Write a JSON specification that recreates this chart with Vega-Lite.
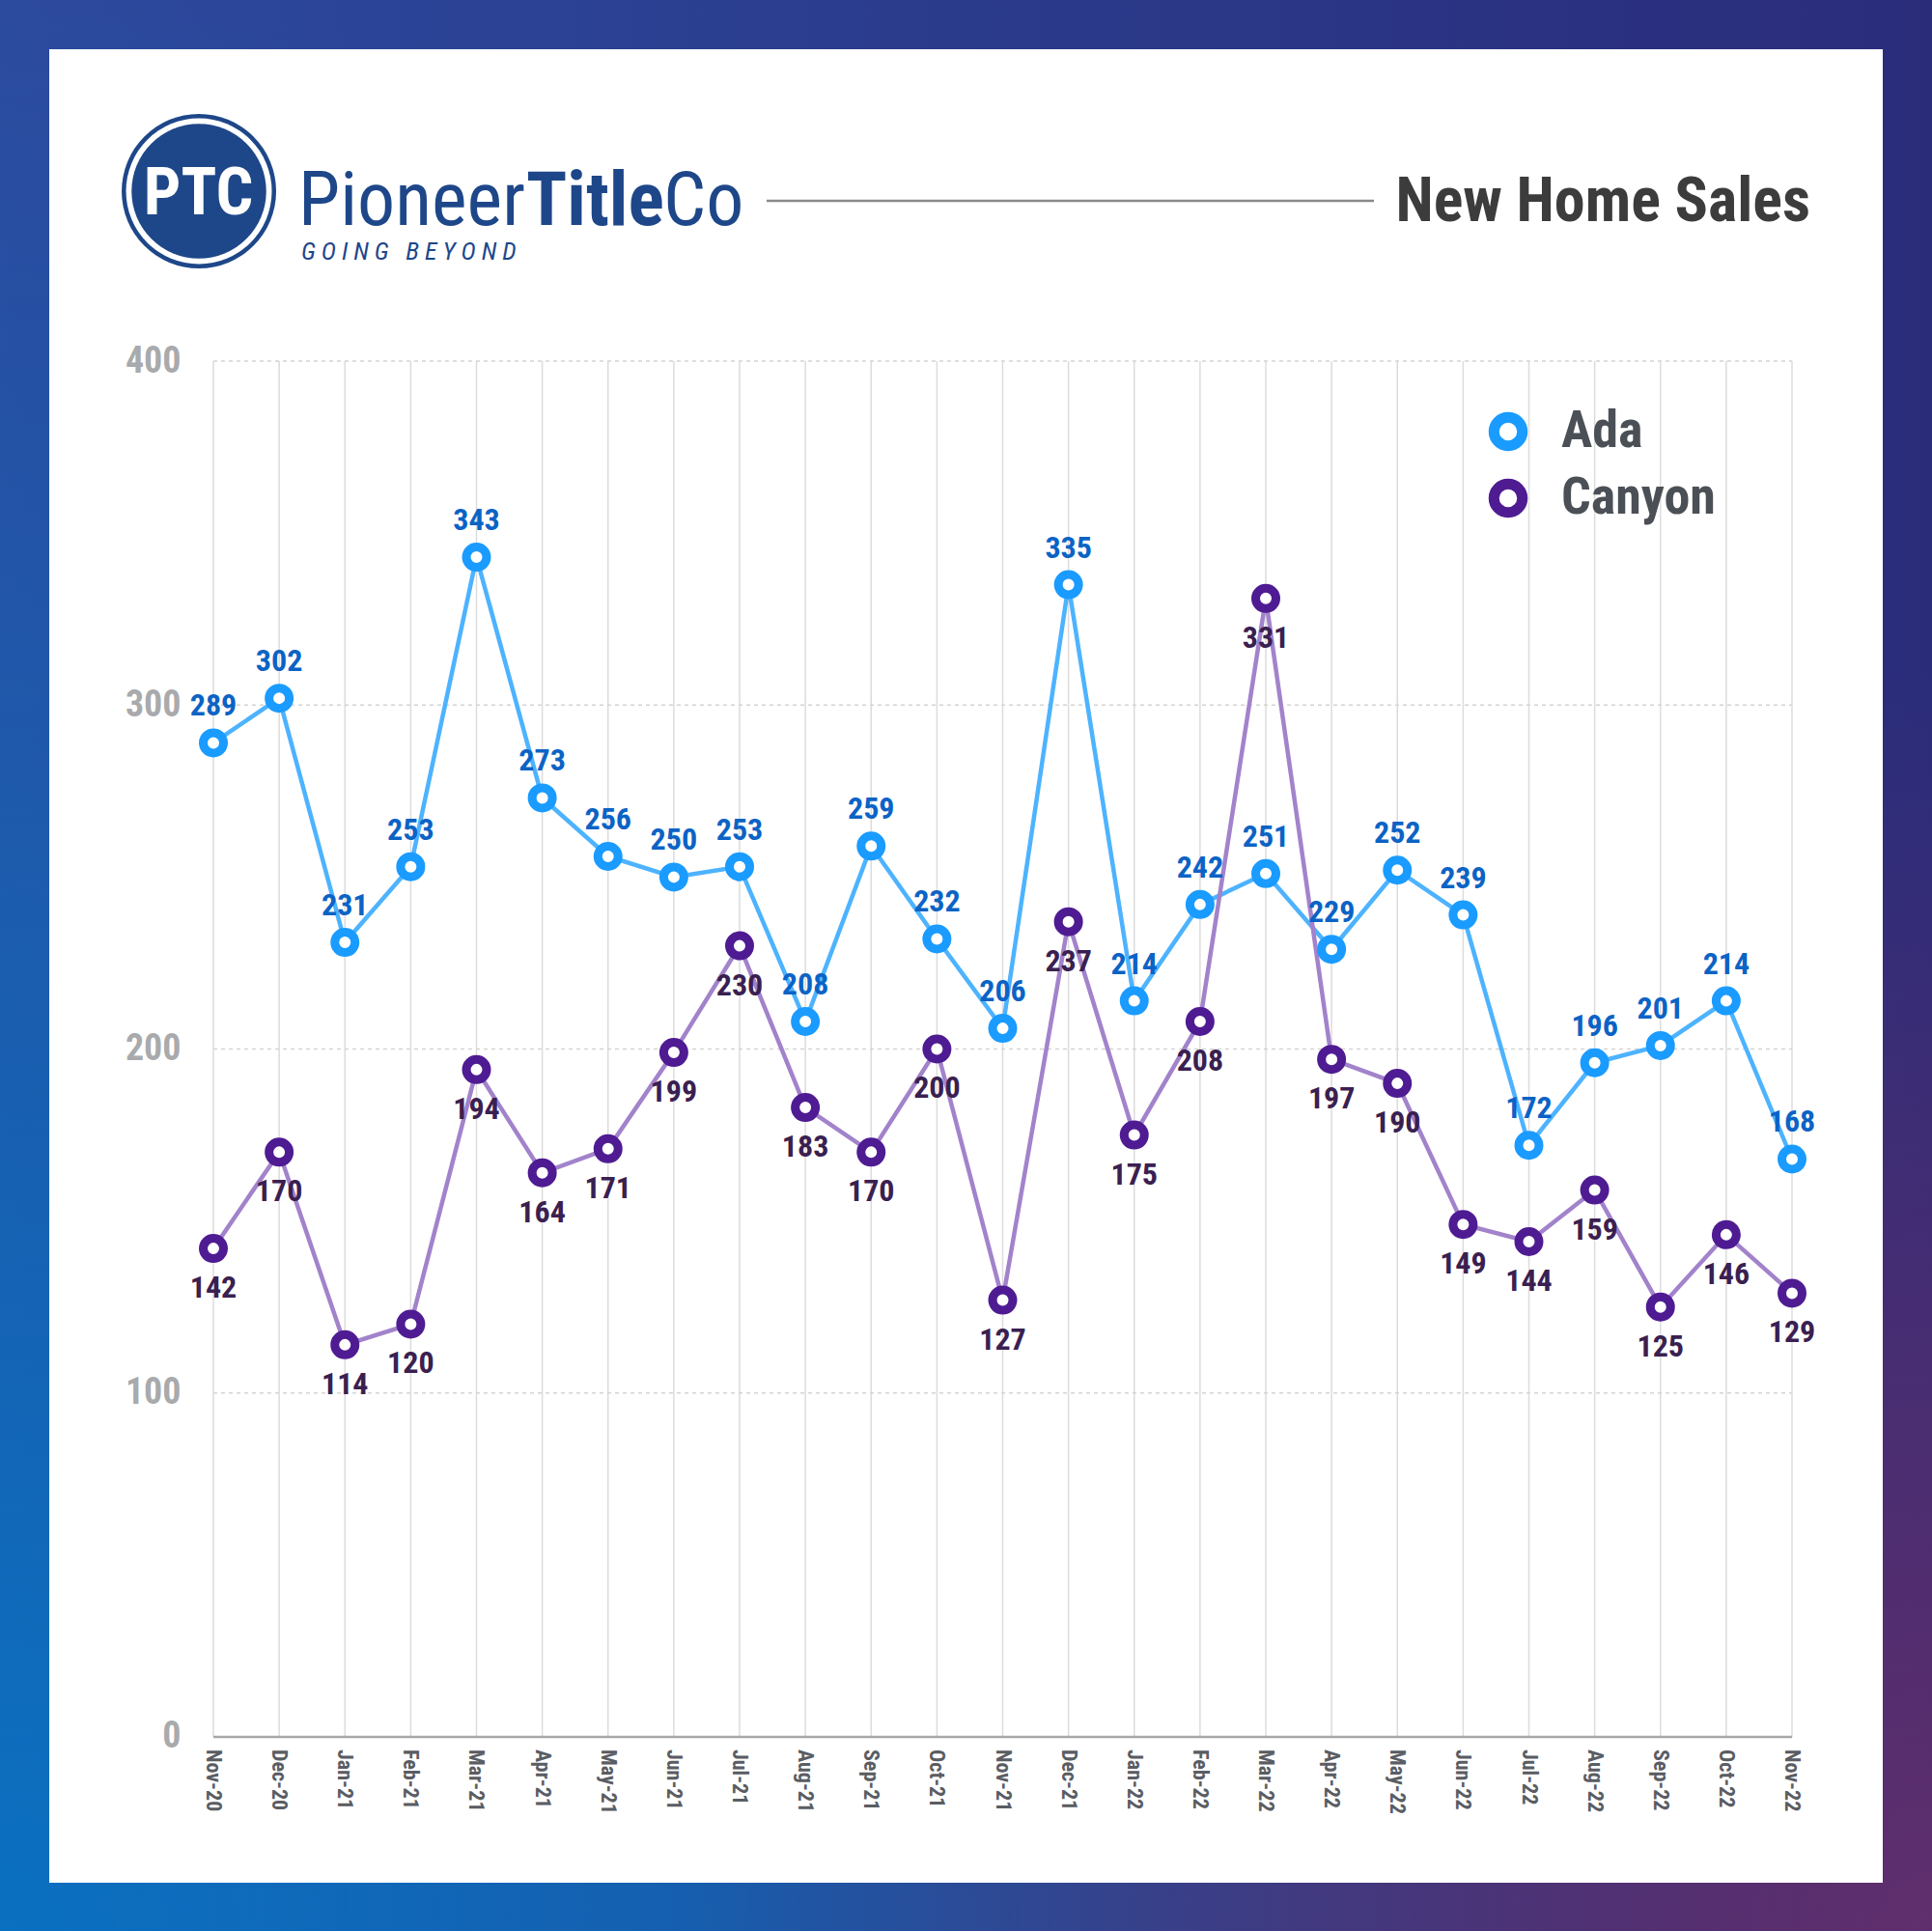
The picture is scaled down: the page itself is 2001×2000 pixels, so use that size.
{
  "$schema": "https://vega.github.io/schema/vega-lite/v6.json",
  "width": 1899,
  "height": 1899,
  "autosize": "none",
  "padding": {"left": 51, "top": 51, "right": 51, "bottom": 50},
  "background": "#2a3f92",
  "config": {"view": {"stroke": null}, "font": "Liberation Sans Narrow, Roboto Condensed, Roboto"},
  "resolve": {"axis": {"y": "independent"}},
  "datasets": {
    "sales": [
      {"month": "Nov-20", "i": 0, "series": "Ada", "value": 289},
      {"month": "Dec-20", "i": 1, "series": "Ada", "value": 302},
      {"month": "Jan-21", "i": 2, "series": "Ada", "value": 231},
      {"month": "Feb-21", "i": 3, "series": "Ada", "value": 253},
      {"month": "Mar-21", "i": 4, "series": "Ada", "value": 343},
      {"month": "Apr-21", "i": 5, "series": "Ada", "value": 273},
      {"month": "May-21", "i": 6, "series": "Ada", "value": 256},
      {"month": "Jun-21", "i": 7, "series": "Ada", "value": 250},
      {"month": "Jul-21", "i": 8, "series": "Ada", "value": 253},
      {"month": "Aug-21", "i": 9, "series": "Ada", "value": 208},
      {"month": "Sep-21", "i": 10, "series": "Ada", "value": 259},
      {"month": "Oct-21", "i": 11, "series": "Ada", "value": 232},
      {"month": "Nov-21", "i": 12, "series": "Ada", "value": 206},
      {"month": "Dec-21", "i": 13, "series": "Ada", "value": 335},
      {"month": "Jan-22", "i": 14, "series": "Ada", "value": 214},
      {"month": "Feb-22", "i": 15, "series": "Ada", "value": 242},
      {"month": "Mar-22", "i": 16, "series": "Ada", "value": 251},
      {"month": "Apr-22", "i": 17, "series": "Ada", "value": 229},
      {"month": "May-22", "i": 18, "series": "Ada", "value": 252},
      {"month": "Jun-22", "i": 19, "series": "Ada", "value": 239},
      {"month": "Jul-22", "i": 20, "series": "Ada", "value": 172},
      {"month": "Aug-22", "i": 21, "series": "Ada", "value": 196},
      {"month": "Sep-22", "i": 22, "series": "Ada", "value": 201},
      {"month": "Oct-22", "i": 23, "series": "Ada", "value": 214},
      {"month": "Nov-22", "i": 24, "series": "Ada", "value": 168},
      {"month": "Nov-20", "i": 0, "series": "Canyon", "value": 142},
      {"month": "Dec-20", "i": 1, "series": "Canyon", "value": 170},
      {"month": "Jan-21", "i": 2, "series": "Canyon", "value": 114},
      {"month": "Feb-21", "i": 3, "series": "Canyon", "value": 120},
      {"month": "Mar-21", "i": 4, "series": "Canyon", "value": 194},
      {"month": "Apr-21", "i": 5, "series": "Canyon", "value": 164},
      {"month": "May-21", "i": 6, "series": "Canyon", "value": 171},
      {"month": "Jun-21", "i": 7, "series": "Canyon", "value": 199},
      {"month": "Jul-21", "i": 8, "series": "Canyon", "value": 230},
      {"month": "Aug-21", "i": 9, "series": "Canyon", "value": 183},
      {"month": "Sep-21", "i": 10, "series": "Canyon", "value": 170},
      {"month": "Oct-21", "i": 11, "series": "Canyon", "value": 200},
      {"month": "Nov-21", "i": 12, "series": "Canyon", "value": 127},
      {"month": "Dec-21", "i": 13, "series": "Canyon", "value": 237},
      {"month": "Jan-22", "i": 14, "series": "Canyon", "value": 175},
      {"month": "Feb-22", "i": 15, "series": "Canyon", "value": 208},
      {"month": "Mar-22", "i": 16, "series": "Canyon", "value": 331},
      {"month": "Apr-22", "i": 17, "series": "Canyon", "value": 197},
      {"month": "May-22", "i": 18, "series": "Canyon", "value": 190},
      {"month": "Jun-22", "i": 19, "series": "Canyon", "value": 149},
      {"month": "Jul-22", "i": 20, "series": "Canyon", "value": 144},
      {"month": "Aug-22", "i": 21, "series": "Canyon", "value": 159},
      {"month": "Sep-22", "i": 22, "series": "Canyon", "value": 125},
      {"month": "Oct-22", "i": 23, "series": "Canyon", "value": 146},
      {"month": "Nov-22", "i": 24, "series": "Canyon", "value": 129}
    ],
    "grid": [{"g": 100}, {"g": 200}, {"g": 300}, {"g": 400}],
    "one": [{}]
  },
  "data": {"name": "sales"},
  "layer": [
    {
      "data": {"name": "one"},
      "mark": {"type": "rect", "fill": {"gradient": "linear", "x1": 0, "y1": 0, "x2": 1, "y2": 0, "stops": [{"offset": 0, "color": "#2C4A9E"}, {"offset": 1, "color": "#2A2C7A"}]}},
      "encoding": {
        "x": {"datum": -3.3, "type": "quantitative", "scale": {"domain": [-2.4954, 25.3798], "nice": false, "zero": false}, "axis": null},
        "x2": {"datum": 26.2},
        "y": {"datum": -57, "type": "quantitative", "scale": {"domain": [-42.39, 490.67], "nice": false, "zero": false}, "axis": null},
        "y2": {"datum": 506}
      }
    },
    {
      "data": {"name": "one"},
      "mark": {"type": "rect", "fill": {"gradient": "radial", "x1": 0, "y1": 1, "r1": 0, "x2": 0, "y2": 1, "r2": 1, "stops": [{"offset": 0, "color": "rgba(10,112,192,1)"}, {"offset": 1, "color": "rgba(10,112,192,0)"}]}},
      "encoding": {
        "x": {"datum": -3.3, "type": "quantitative", "axis": null},
        "x2": {"datum": 26.2},
        "y": {"datum": -57, "type": "quantitative", "axis": null},
        "y2": {"datum": 506}
      }
    },
    {
      "data": {"name": "one"},
      "mark": {"type": "rect", "fill": {"gradient": "radial", "x1": 1, "y1": 1, "r1": 0, "x2": 1, "y2": 1, "r2": 0.65, "stops": [{"offset": 0, "color": "rgba(96,46,108,1)"}, {"offset": 0.5, "color": "rgba(92,45,108,0.55)"}, {"offset": 1, "color": "rgba(92,45,108,0)"}]}},
      "encoding": {
        "x": {"datum": -3.3, "type": "quantitative", "axis": null},
        "x2": {"datum": 26.2},
        "y": {"datum": -57, "type": "quantitative", "axis": null},
        "y2": {"datum": 506}
      }
    },
    {
      "data": {"name": "one"},
      "mark": {"type": "rect", "fill": "white"},
      "encoding": {
        "x": {"datum": -2.4954, "type": "quantitative", "axis": null},
        "x2": {"datum": 25.3798},
        "y": {"datum": -42.39, "type": "quantitative", "axis": null},
        "y2": {"datum": 490.67}
      }
    },
    {
      "data": {"name": "one"},
      "mark": {"type": "point", "shape": "circle", "filled": true, "color": "#1E4789", "opacity": 1, "size": 25600},
      "encoding": {
        "x": {"datum": -0.22, "type": "quantitative", "axis": null},
        "y": {"datum": 449.4, "type": "quantitative", "axis": null}
      }
    },
    {
      "data": {"name": "one"},
      "mark": {"type": "point", "shape": "circle", "filled": true, "color": "white", "opacity": 1, "size": 22801},
      "encoding": {
        "x": {"datum": -0.22, "type": "quantitative", "axis": null},
        "y": {"datum": 449.4, "type": "quantitative", "axis": null}
      }
    },
    {
      "data": {"name": "one"},
      "mark": {"type": "point", "shape": "circle", "filled": true, "color": "#1E4789", "opacity": 1, "size": 19460},
      "encoding": {
        "x": {"datum": -0.22, "type": "quantitative", "axis": null},
        "y": {"datum": 449.4, "type": "quantitative", "axis": null}
      }
    },
    {
      "data": {"name": "one"},
      "mark": {"type": "text", "text": "PTC", "font": "Liberation Sans Narrow, Roboto Condensed, Roboto", "fontSize": 68, "fontWeight": "bold", "color": "white", "align": "center", "baseline": "alphabetic"},
      "encoding": {
        "x": {"datum": -0.2275, "type": "quantitative", "axis": null},
        "y": {"datum": 442.6, "type": "quantitative", "axis": null}
      }
    },
    {
      "data": {"name": "one"},
      "mark": {"type": "text", "text": "Pioneer", "font": "Liberation Sans Narrow, Roboto Condensed, Roboto", "fontSize": 78, "color": "#1E4789", "align": "right", "baseline": "alphabetic"},
      "encoding": {
        "x": {"datum": 4.74, "type": "quantitative", "axis": null},
        "y": {"datum": 439.58, "type": "quantitative", "axis": null}
      }
    },
    {
      "data": {"name": "one"},
      "mark": {"type": "text", "text": "Title", "font": "Liberation Sans Narrow, Roboto Condensed, Roboto", "fontSize": 78, "fontWeight": "bold", "color": "#1E4789", "align": "left", "baseline": "alphabetic"},
      "encoding": {
        "x": {"datum": 4.755, "type": "quantitative", "axis": null},
        "y": {"datum": 439.58, "type": "quantitative", "axis": null}
      }
    },
    {
      "data": {"name": "one"},
      "mark": {"type": "text", "text": "Co", "font": "Liberation Sans Narrow, Roboto Condensed, Roboto", "fontSize": 78, "color": "#1E4789", "align": "left", "baseline": "alphabetic"},
      "encoding": {
        "x": {"datum": 6.84, "type": "quantitative", "axis": null},
        "y": {"datum": 439.58, "type": "quantitative", "axis": null}
      }
    },
    {
      "data": {"name": "one"},
      "mark": {"type": "text", "text": "G\u00a0O\u00a0I\u00a0N\u00a0G\u00a0\u00a0\u00a0B\u00a0E\u00a0Y\u00a0O\u00a0N\u00a0D", "font": "Liberation Sans Narrow, Roboto Condensed, Roboto", "fontSize": 26, "fontStyle": "italic", "color": "#1E4789", "align": "left", "baseline": "alphabetic"},
      "encoding": {
        "x": {"datum": 1.336, "type": "quantitative", "axis": null},
        "y": {"datum": 429.6, "type": "quantitative", "axis": null}
      }
    },
    {
      "data": {"name": "one"},
      "mark": {"type": "rule", "color": "#8A8A8A", "strokeWidth": 2.5},
      "encoding": {
        "x": {"datum": 8.411, "type": "quantitative", "axis": null},
        "x2": {"datum": 17.644},
        "y": {"datum": 446.6, "type": "quantitative", "axis": null}
      }
    },
    {
      "data": {"name": "one"},
      "mark": {"type": "text", "text": "New Home Sales", "font": "Liberation Sans Narrow, Roboto Condensed, Roboto", "fontSize": 64, "fontWeight": "bold", "color": "#3C3C3C", "align": "right", "baseline": "alphabetic"},
      "encoding": {
        "x": {"datum": 24.279, "type": "quantitative", "axis": null},
        "y": {"datum": 440.7, "type": "quantitative", "axis": null}
      }
    },
    {
      "transform": [{"filter": "datum.series === 'Ada'"}],
      "mark": {"type": "rule", "color": "#DCDCDC", "strokeWidth": 1.5},
      "encoding": {
        "x": {"field": "i", "type": "quantitative", "axis": null},
        "y": {"datum": 0, "type": "quantitative", "axis": null},
        "y2": {"datum": 400}
      }
    },
    {
      "data": {"name": "grid"},
      "mark": {"type": "rule", "color": "#D4D4D4", "strokeWidth": 1.5, "strokeDash": [4, 4]},
      "encoding": {
        "x": {"datum": 0, "type": "quantitative", "axis": null},
        "x2": {"datum": 24},
        "y": {"field": "g", "type": "quantitative", "axis": null}
      }
    },
    {
      "data": {"name": "one"},
      "mark": {"type": "rule", "color": "#A8A8A8", "strokeWidth": 2.5},
      "encoding": {
        "x": {"datum": 0, "type": "quantitative", "axis": null},
        "x2": {"datum": 24},
        "y": {"datum": 0, "type": "quantitative", "axis": {"orient": "left", "values": [0, 100, 200, 300, 400], "title": null, "domain": false, "ticks": false, "grid": false, "zindex": 1, "labelPadding": 0, "offset": -136, "labelFont": "Liberation Sans Narrow, Roboto Condensed, Roboto", "labelFontSize": 38, "labelFontWeight": "bold", "labelColor": "#A8AAAC"}}
      }
    },
    {
      "mark": {"type": "line", "strokeWidth": 4.5},
      "encoding": {
        "x": {"field": "i", "type": "quantitative", "axis": null},
        "y": {"field": "value", "type": "quantitative", "axis": null},
        "detail": {"field": "series", "type": "nominal"},
        "color": {"condition": {"test": "datum.series === 'Ada'", "value": "#4DB3FF"}, "value": "#A283CB"}
      }
    },
    {
      "mark": {"type": "point", "shape": "circle", "filled": true, "fill": "white", "opacity": 1, "size": 441, "strokeWidth": 9},
      "encoding": {
        "x": {"field": "i", "type": "quantitative", "axis": null},
        "y": {"field": "value", "type": "quantitative", "axis": null},
        "stroke": {
          "field": "series", "type": "nominal",
          "scale": {"domain": ["Ada", "Canyon"], "range": ["#1A9BFF", "#4F1B92"]},
          "legend": {"title": null, "orient": "none", "legendX": 1484, "legendY": 369, "zindex": 1, "padding": 0, "symbolType": "circle", "symbolSize": 870, "symbolStrokeWidth": 11, "symbolFillColor": "white", "symbolOpacity": 1, "labelFont": "Liberation Sans Narrow, Roboto Condensed, Roboto", "labelFontSize": 54, "labelFontWeight": "bold", "labelColor": "#4B5056", "labelOffset": 28, "rowPadding": -5}
        }
      }
    },
    {
      "transform": [{"filter": "datum.series === 'Ada'"}],
      "mark": {"type": "text", "font": "Liberation Sans Narrow, Roboto Condensed, Roboto", "fontSize": 32, "fontWeight": "bold", "color": "#0B63C5", "dy": -38, "baseline": "middle"},
      "encoding": {
        "x": {"field": "i", "type": "quantitative", "axis": null},
        "y": {"field": "value", "type": "quantitative", "axis": null},
        "text": {"field": "value", "type": "quantitative"}
      }
    },
    {
      "transform": [{"filter": "datum.series === 'Canyon'"}],
      "mark": {"type": "text", "font": "Liberation Sans Narrow, Roboto Condensed, Roboto", "fontSize": 32, "fontWeight": "bold", "color": "#3A2050", "dy": 41, "baseline": "middle"},
      "encoding": {
        "x": {"field": "i", "type": "quantitative", "axis": null},
        "y": {"field": "value", "type": "quantitative", "axis": null},
        "text": {"field": "value", "type": "quantitative"}
      }
    },
    {
      "transform": [{"filter": "datum.series === 'Ada'"}],
      "mark": {"type": "text", "font": "Liberation Sans Narrow, Roboto Condensed, Roboto", "fontSize": 22, "fontWeight": "bold", "color": "#5A5D63", "angle": 90, "align": "left", "baseline": "middle", "dx": 13},
      "encoding": {
        "x": {"field": "i", "type": "quantitative", "axis": null},
        "y": {"datum": 0, "type": "quantitative", "axis": null},
        "text": {"field": "month", "type": "nominal"}
      }
    }
  ]
}
